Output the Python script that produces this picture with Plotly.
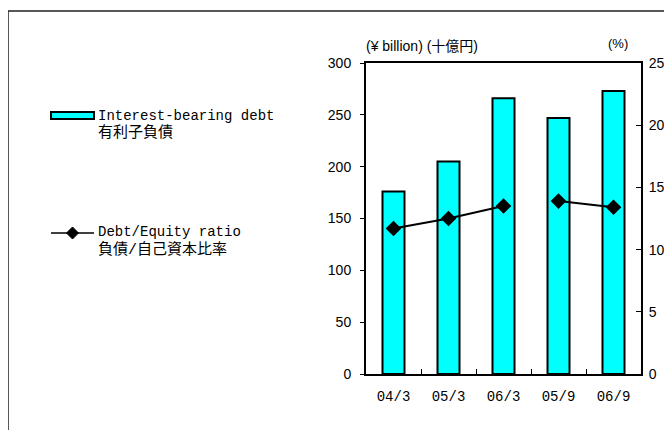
import plotly.graph_objects as go

categories = ["04/3", "05/3", "06/3", "05/9", "06/9"]
debt = [176, 205, 266, 247, 273]          # ¥ billion
de_ratio = [11.7, 12.5, 13.5, 13.9, 13.4]  # %
left_ticks = [0, 50, 100, 150, 200, 250, 300]
right_ticks = [0, 5, 10, 15, 20, 25]
# the ratio line is drawn in two separate runs: fiscal years (x/3) and half years (x/9)
segments = [(0, 3), (3, 5)]

W, H = 672, 430
OFF = 8  # page body margin
def px(x):
    return (x - OFF) / W
def py(y):
    return 1 - (y - OFF) / H

MONO = "Liberation Mono, Noto Sans CJK JP, monospace"
SANS = "Liberation Sans, Arial, sans-serif"
TSANS = "Liberation Sans, Noto Sans CJK JP, sans-serif"

fig = go.Figure()
fig.add_trace(go.Bar(
    x=categories, y=debt, name="Interest-bearing debt",
    marker=dict(color="#00FFFF", line=dict(color="black", width=2)),
    width=0.4, showlegend=False,
))
for a, b in segments:
    fig.add_trace(go.Scatter(
        x=categories[a:b], y=de_ratio[a:b], name="Debt/Equity ratio", mode="lines+markers",
        line=dict(color="black", width=2),
        marker=dict(symbol="diamond", size=12, color="black"),
        yaxis="y2", showlegend=False,
    ))

fig.update_layout(
    width=W, height=H, autosize=False,
    margin=dict(l=0, r=0, t=0, b=0, autoexpand=False),
    paper_bgcolor="white", plot_bgcolor="white",
    xaxis=dict(
        domain=[px(366), px(641)],
        categoryorder="array", categoryarray=categories,
        showline=True, linecolor="black", linewidth=2, mirror=True,
        ticks="inside", ticklen=5, tickcolor="black", tickson="boundaries",
        tickfont=dict(family=MONO, size=14, color="black"),
        ticklabelstandoff=8,
        showgrid=False,
    ),
    yaxis=dict(
        domain=[py(374), py(63)],
        range=[0, 300], tickvals=left_ticks,
        showline=True, linecolor="black", linewidth=2,
        ticks="outside", ticklen=4, tickcolor="black",
        tickfont=dict(family=SANS, size=14, color="black"),
        ticklabelstandoff=6,
        showgrid=False, zeroline=False,
    ),
    yaxis2=dict(
        overlaying="y", side="right", anchor="x",
        range=[0, 25], tickvals=right_ticks,
        showline=True, linecolor="black", linewidth=2,
        ticks="inside", ticklen=5, tickcolor="black",
        tickfont=dict(family=SANS, size=14, color="black"),
        ticklabelstandoff=3,
        showgrid=False, zeroline=False,
    ),
)

annotations = [
    dict(x=px(364), y=py(46), text="(¥ billion) (十億円)", xanchor="left", yanchor="middle",
         font=dict(family=TSANS, size=14, color="black")),
    dict(x=px(606), y=py(44), text="(%)", xanchor="left", yanchor="middle",
         font=dict(family=TSANS, size=13, color="black")),
    dict(x=px(96), y=py(116), text="Interest-bearing debt", xanchor="left", yanchor="middle",
         font=dict(family=MONO, size=14, color="black")),
    dict(x=px(96), y=py(133), text="有利子負債", xanchor="left", yanchor="middle",
         font=dict(family=MONO, size=15, color="black")),
    dict(x=px(96), y=py(232), text="Debt/Equity ratio", xanchor="left", yanchor="middle",
         font=dict(family=MONO, size=14, color="black")),
    dict(x=px(96), y=py(250), text="負債/自己資本比率", xanchor="left", yanchor="middle",
         font=dict(family=MONO, size=15, color="black")),
]
for a in annotations:
    a.update(xref="paper", yref="paper", showarrow=False)

cx, cy, r = 72.5, 233, 6
diamond = (f"M {px(cx)} {py(cy - r)} L {px(cx + r)} {py(cy)} "
           f"L {px(cx)} {py(cy + r)} L {px(cx - r)} {py(cy)} Z")
shapes = [
    dict(type="rect", xref="paper", yref="paper", x0=px(8), y0=py(11), x1=1.05, y1=-0.05,
         line=dict(color="#222", width=1.5), layer="below"),
    dict(type="rect", xref="paper", yref="paper", x0=px(51), y0=py(112), x1=px(94), y1=py(119),
         fillcolor="#00FFFF", line=dict(color="black", width=2)),
    dict(type="line", xref="paper", yref="paper", x0=px(51), y0=py(233), x1=px(94), y1=py(233),
         line=dict(color="black", width=1.5)),
    dict(type="path", xref="paper", yref="paper", path=diamond,
         fillcolor="black", line=dict(color="black", width=1)),
]
fig.update_layout(annotations=annotations, shapes=shapes)

fig.write_html("out.html")
